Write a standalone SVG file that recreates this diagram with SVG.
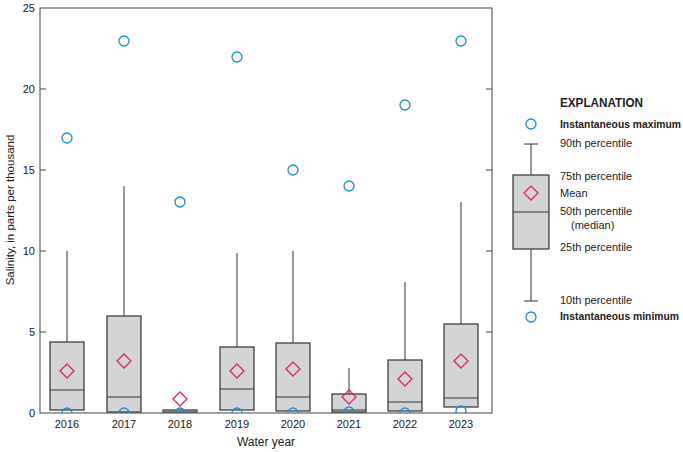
<svg xmlns="http://www.w3.org/2000/svg" width="683" height="452" viewBox="0 0 683 452">
<style>
text{font-family:"Liberation Sans",Arial,sans-serif;font-size:11px;fill:#222}
.b{font-weight:bold}
.ax{stroke:#444;stroke-width:1;fill:none}
.box{fill:#d3d4d6;stroke:#333;stroke-width:1.2}
.w{stroke:#333;stroke-width:1;fill:none}
.mx{fill:none;stroke:#1a8fd0;stroke-width:1.3}
.mn{fill:none;stroke:#e0245e;stroke-width:1.3}
</style>
<defs>
<path id="d" d="M0,-7 L7,0 L0,7 L-7,0Z"/>
<clipPath id="pc"><rect x="40" y="0" width="452" height="413"/></clipPath>
</defs>
<g id="axes">
<rect class="ax" x="40" y="8" width="452" height="405"/>
<path class="ax" d="M40,332h6M40,251h6M40,170h6M40,89h6M492,332h-6M492,251h-6M492,170h-6M492,89h-6"/>
<g text-anchor="end"><text x="35" y="417">0</text><text x="35" y="336">5</text><text x="35" y="255">10</text><text x="35" y="174">15</text><text x="35" y="93">20</text><text x="35" y="12">25</text></g>
<g text-anchor="middle"><text x="67" y="428">2016</text><text x="124" y="428">2017</text><text x="180" y="428">2018</text><text x="237" y="428">2019</text><text x="293" y="428">2020</text><text x="349" y="428">2021</text><text x="405" y="428">2022</text><text x="461" y="428">2023</text>
<text x="266" y="446" style="font-size:12px">Water year</text>
<text transform="translate(14,210) rotate(-90)" style="font-size:11.5px">Salinity, in parts per thousand</text></g>
</g>
<g id="connectors">
<path class="w" d="M67,251V342M124,186V316M180,410V411M237,253V347M293,251V343M349,368V394M405,282V360M461,202V324"/>
</g>
<g id="boxes">
<rect class="box" x="50" y="342" width="34" height="68"/><path class="w" d="M50,390h34"/>
<rect class="box" x="107" y="316" width="34" height="96"/><path class="w" d="M107,397h34"/>
<rect class="box" x="163" y="410" width="34" height="2"/>
<rect class="box" x="220" y="347" width="34" height="63"/><path class="w" d="M220,389h34"/>
<rect class="box" x="276" y="343" width="34" height="68"/><path class="w" d="M276,397h34"/>
<rect class="box" x="332" y="394" width="34" height="18"/><path class="w" d="M332,410h34"/>
<rect class="box" x="388" y="360" width="34" height="51"/><path class="w" d="M388,402h34"/>
<rect class="box" x="444" y="324" width="34" height="83"/><path class="w" d="M444,398h34"/>
</g>
<g id="max">
<circle class="mx" cx="67" cy="138" r="5"/><circle class="mx" cx="124" cy="41" r="5"/><circle class="mx" cx="180" cy="202" r="5"/><circle class="mx" cx="237" cy="57" r="5"/><circle class="mx" cx="293" cy="170" r="5"/><circle class="mx" cx="349" cy="186" r="5"/><circle class="mx" cx="405" cy="105" r="5"/><circle class="mx" cx="461" cy="41" r="5"/>
</g>
<g id="min" clip-path="url(#pc)">
<circle class="mx" cx="67" cy="413" r="5"/><circle class="mx" cx="124" cy="413" r="5"/><circle class="mx" cx="180" cy="413" r="5"/><circle class="mx" cx="237" cy="413" r="5"/><circle class="mx" cx="293" cy="413" r="5"/><circle class="mx" cx="349" cy="412" r="5"/><circle class="mx" cx="405" cy="413" r="5"/><circle class="mx" cx="461" cy="411" r="5"/>
</g>
<g id="means">
<use href="#d" class="mn" x="67" y="371"/><use href="#d" class="mn" x="124" y="361"/><use href="#d" class="mn" x="180" y="399"/><use href="#d" class="mn" x="237" y="371"/><use href="#d" class="mn" x="293" y="369"/><use href="#d" class="mn" x="349" y="397"/><use href="#d" class="mn" x="405" y="379"/><use href="#d" class="mn" x="461" y="361"/>
</g>
<g id="legend">
<text class="b" x="560" y="107" style="font-size:12.5px" textLength="83" lengthAdjust="spacingAndGlyphs">EXPLANATION</text>
<circle class="mx" cx="531" cy="124" r="5"/>
<path class="w" d="M524,144h14M531,144V175M531,249V301M524,301h14"/>
<rect class="box" x="513" y="175" width="36" height="74"/><path class="w" d="M513,212h36"/>
<use href="#d" class="mn" x="531" y="193"/>
<circle class="mx" cx="531" cy="317" r="5"/>
<text class="b" x="560" y="128" textLength="121" lengthAdjust="spacingAndGlyphs">Instantaneous maximum</text>
<text x="560" y="147">90th percentile</text>
<text x="560" y="180">75th percentile</text>
<text x="560" y="197">Mean</text>
<text x="560" y="215">50th percentile</text>
<text x="571" y="229">(median)</text>
<text x="560" y="251">25th percentile</text>
<text x="560" y="304">10th percentile</text>
<text class="b" x="560" y="320" textLength="119" lengthAdjust="spacingAndGlyphs">Instantaneous minimum</text>
</g>
</svg>
